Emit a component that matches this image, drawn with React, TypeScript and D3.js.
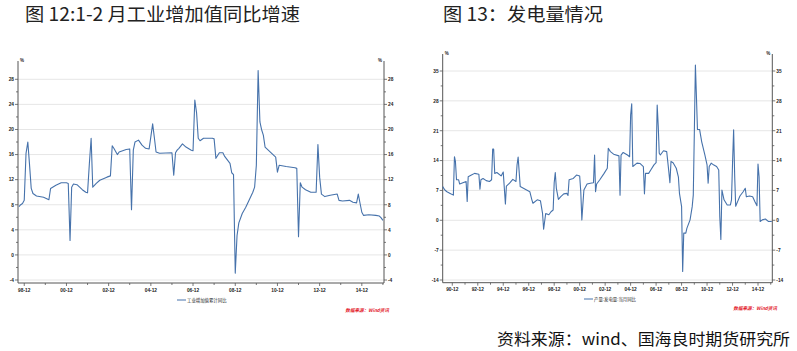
import * as d3 from 'd3';
import { useRef, useEffect } from 'react';

// 工业增加值累计同比 (%)
const ivaMonths = [
  '1998-09', '1998-10', '1998-11', '1998-12', '1999-01', '1999-02', '1999-03', '1999-04', '1999-05', '1999-07',
  '1999-11', '2000-02', '2000-03', '2000-06', '2000-09', '2000-12', '2001-01', '2001-02', '2001-03', '2001-04',
  '2001-06', '2001-09', '2001-11', '2001-12', '2002-01', '2002-02', '2002-03', '2002-05', '2002-07', '2002-11',
  '2003-01', '2003-02', '2003-03', '2003-05', '2003-06', '2003-10', '2003-12', '2004-01', '2004-02', '2004-03',
  '2004-05', '2004-07', '2004-09', '2004-11', '2005-01', '2005-02', '2005-03', '2005-05', '2005-12', '2006-01',
  '2006-02', '2006-03', '2006-04', '2006-06', '2006-08', '2006-11', '2006-12', '2007-01', '2007-02', '2007-03',
  '2007-04', '2007-06', '2007-11', '2007-12', '2008-01', '2008-03', '2008-05', '2008-06', '2008-09', '2008-10',
  '2008-11', '2008-12', '2009-01', '2009-02', '2009-04', '2009-06', '2009-08', '2009-10', '2009-11', '2009-12',
  '2010-01', '2010-02', '2010-03', '2010-04', '2010-05', '2010-08', '2010-11', '2010-12', '2011-01', '2011-05',
  '2011-10', '2011-11', '2011-12', '2012-01', '2012-02', '2012-04', '2012-07', '2012-10', '2012-11', '2012-12',
  '2013-01', '2013-03', '2013-06', '2013-10', '2013-11', '2014-01', '2014-05', '2014-07', '2014-09', '2014-10',
  '2014-11', '2014-12', '2015-01', '2015-04', '2015-08', '2015-10', '2015-11', '2015-12'
];
const ivaValues = [
  7.7, 8.0, 8.2, 8.7, 16.2, 18.0, 14.6, 10.6, 9.8, 9.4,
  9.2, 8.8, 10.6, 11.1, 11.5, 11.5, 11.4, 2.3, 10.8, 11.3,
  11.2, 10.4, 10.0, 9.9, 14.5, 18.6, 10.8, 11.4, 11.9, 12.4,
  12.6, 17.4, 17.0, 16.0, 16.4, 16.8, 16.9, 7.2, 16.7, 18.0,
  18.3, 17.5, 17.0, 16.9, 20.9, 18.6, 16.4, 16.2, 16.3, 12.7,
  16.3, 16.7, 17.0, 17.7, 17.2, 16.7, 16.6, 24.7, 22.6, 18.6,
  18.2, 18.6, 18.6, 18.5, 15.4, 16.3, 16.3, 15.7, 14.6, 13.1,
  12.8, -2.9, 3.1, 5.1, 6.6, 7.6, 8.8, 10.0, 10.8, 14.3,
  29.4, 21.2, 20.0, 19.1, 17.2, 16.4, 15.6, 13.2, 14.3, 14.1,
  13.9, 13.8, 2.9, 11.5, 10.8, 10.4, 10.0, 10.0, 17.6, 12.4,
  9.7, 9.3, 9.5, 9.7, 8.7, 8.6, 8.7, 8.4, 8.3, 9.7,
  8.2, 6.8, 6.3, 6.4, 6.3, 6.2, 5.9, 5.5
];

// 发电量当月同比 (%)
const powerMonths = [
  '1990-03', '1990-05', '1990-07', '1990-10', '1991-01', '1991-02', '1991-03', '1991-04', '1991-06', '1991-07',
  '1991-10', '1992-01', '1992-02', '1992-03', '1992-06', '1992-09', '1993-01', '1993-02', '1993-03', '1993-05',
  '1993-08', '1993-11', '1994-01', '1994-02', '1994-03', '1994-04', '1994-06', '1994-10', '1994-12', '1995-02',
  '1995-03', '1995-06', '1995-09', '1995-12', '1996-01', '1996-02', '1996-04', '1996-07', '1996-10', '1997-01',
  '1997-03', '1997-04', '1997-08', '1997-11', '1998-01', '1998-02', '1998-04', '1998-07', '1998-09', '1998-11',
  '1998-12', '1999-01', '1999-02', '1999-04', '1999-06', '1999-09', '1999-12', '2000-01', '2000-02', '2000-06',
  '2000-09', '2000-12', '2001-01', '2001-02', '2001-03', '2001-04', '2001-07', '2001-10', '2002-01', '2002-02',
  '2002-03', '2002-04', '2002-07', '2002-11', '2003-02', '2003-03', '2003-05', '2003-08', '2004-01', '2004-02',
  '2004-03', '2004-05', '2004-09', '2004-11', '2004-12', '2005-01', '2005-02', '2005-06', '2005-09', '2005-12',
  '2006-01', '2006-02', '2006-05', '2006-07', '2006-10', '2006-12', '2007-01', '2007-02', '2007-03', '2007-04',
  '2007-07', '2007-10', '2007-12', '2008-01', '2008-02', '2008-04', '2008-07', '2008-09', '2008-10', '2008-12',
  '2009-01', '2009-02', '2009-04', '2009-05', '2009-08', '2009-10', '2009-11', '2009-12', '2010-01', '2010-02',
  '2010-03', '2010-05', '2010-07', '2010-10', '2010-12', '2011-01', '2011-02', '2011-04', '2011-06', '2011-09',
  '2011-11', '2011-12', '2012-01', '2012-02', '2012-04', '2012-07', '2012-10', '2012-11', '2012-12', '2013-01',
  '2013-02', '2013-03', '2013-05', '2013-07', '2013-10', '2013-12', '2014-01', '2014-04', '2014-07', '2014-09',
  '2014-11', '2014-12', '2015-01', '2015-02', '2015-04', '2015-07', '2015-10', '2016-01'
];
const powerValues = [
  7.9, 7.1, 6.7, 6.3, 5.9, 14.9, 13.8, 9.5, 9.5, 8.5,
  8.8, 9.1, 4.4, 10.2, 10.6, 11.0, 10.8, 7.3, 9.5, 9.8,
  9.3, 9.1, 9.5, 16.7, 16.7, 11.0, 11.2, 10.4, 11.3, 3.8,
  8.0, 8.7, 9.6, 9.1, 13.0, 14.8, 7.9, 7.5, 7.1, 6.7,
  4.8, 4.0, 4.8, 4.6, 1.6, -2.1, 1.6, 1.3, 2.0, 2.4,
  8.8, 11.2, 7.5, 4.9, 5.5, 6.2, 6.3, 5.8, 9.5, 9.8,
  10.6, 10.4, 6.7, 0.1, 3.5, 7.1, 8.5, 8.7, 8.8, 15.3,
  6.7, 8.5, 9.5, 11.0, 12.2, 16.9, 16.1, 15.5, 15.1, 5.9,
  15.3, 15.9, 15.3, 14.9, 24.7, 27.3, 12.6, 13.4, 13.3, 12.6,
  6.2, 11.0, 11.0, 11.8, 13.0, 13.5, 27.0, 22.0, 15.7, 15.3,
  16.3, 16.1, 11.4, 8.8, 13.8, 13.5, 12.2, 10.1, 6.3, 3.2,
  -12.0, -3.0, -3.0, -1.9, 0.1, 3.2, 5.9, 20.4, 36.4, 28.6,
  21.3, 21.3, 18.4, 15.3, 13.0, 8.7, 12.6, 13.4, 13.0, 12.6,
  11.8, 0.9, -4.5, 7.1, 4.8, 3.6, 3.6, 4.8, 13.4, 21.2,
  10.2, 3.3, 4.5, 5.7, 6.7, 7.5, 5.5, 5.7, 5.5, 4.4,
  3.4, 13.2, 10.2, -0.3, 0.1, 0.3, -0.3, -0.3
];

const ivaYTicks = [-4, 0, 4, 8, 12, 16, 20, 24, 28];
const powerYTicks = [-14, -7, 0, 7, 14, 21, 28, 35];
const ivaXLabels = ['98-12', '00-12', '02-12', '04-12', '06-12', '08-12', '10-12', '12-12', '14-12'];
const powerXLabels = ['90-12', '92-12', '94-12', '96-12', '98-12', '00-12', '02-12', '04-12', '06-12', '08-12', '10-12', '12-12', '14-12'];

const LINE = '#4672ab';
const AXIS = '#555';
const GRID = '#e6e6e6';
const TICK_FONT = 'Liberation Sans, Arial, sans-serif';
const CJK = '"Noto Sans CJK SC", sans-serif';

const parseMonth = d3.timeParse('%Y-%m');
const labelDate = (s: string) => {
  const yy = +s.slice(0, 2);
  return new Date(yy >= 50 ? 1900 + yy : 2000 + yy, +s.slice(3) - 1, 1);
};

function drawPanel(svg: any, o: any) {
  const x = d3.scaleTime().domain(o.xDomain).range([o.left, o.right]);
  const y = d3.scaleLinear().domain([o.yTicks[0], o.yTicks[o.yTicks.length - 1]]).range(o.yRange);
  const g = svg.append('g');

  // grid
  g.selectAll('.grid').data(o.yTicks).enter().append('line')
    .attr('x1', o.left).attr('x2', o.right)
    .attr('y1', (d: number) => y(d)).attr('y2', (d: number) => y(d))
    .attr('stroke', GRID).attr('stroke-width', 1);

  // axes lines
  g.append('line').attr('x1', o.left).attr('x2', o.left).attr('y1', o.top).attr('y2', o.bottom).attr('stroke', AXIS);
  g.append('line').attr('x1', o.right).attr('x2', o.right).attr('y1', o.top).attr('y2', o.bottom).attr('stroke', AXIS);
  g.append('line').attr('x1', o.left).attr('x2', o.right).attr('y1', o.bottom).attr('y2', o.bottom).attr('stroke', AXIS);

  // y ticks, both sides
  const step = o.yTicks[1] - o.yTicks[0];
  const minor = o.yTicks.slice(0, -1).map((d: number) => d + step / 2);
  [o.left, o.right].forEach((ax: number, i: number) => {
    const dir = i === 0 ? -1 : 1;
    g.selectAll(null).data(o.yTicks).enter().append('line')
      .attr('x1', ax).attr('x2', ax + dir * 3)
      .attr('y1', (d: number) => y(d)).attr('y2', (d: number) => y(d))
      .attr('stroke', AXIS).attr('stroke-width', 0.8);
    g.selectAll(null).data(minor).enter().append('line')
      .attr('x1', ax).attr('x2', ax + dir * 2)
      .attr('y1', (d: number) => y(d)).attr('y2', (d: number) => y(d))
      .attr('stroke', AXIS).attr('stroke-width', 0.8);
    g.selectAll(null).data(o.yTicks).enter().append('text')
      .attr('x', ax + dir * 4)
      .attr('y', (d: number) => y(d) + 1.8)
      .attr('text-anchor', i === 0 ? 'end' : 'start')
      .style('font-family', TICK_FONT).style('font-size', '4.8px').style('font-weight', 'bold')
      .attr('fill', '#222')
      .text((d: number) => d);
    g.append('text')
      .attr('x', ax + (i === 0 ? 2 : -2)).attr('y', o.top + 1)
      .attr('text-anchor', i === 0 ? 'start' : 'end')
      .style('font-family', TICK_FONT).style('font-size', '4.5px').style('font-weight', 'bold')
      .attr('fill', '#222').text('%');
  });

  // x ticks
  const labelDates = o.xLabels.map(labelDate);
  g.selectAll(null).data(labelDates).enter().append('line')
    .attr('x1', (d: Date) => x(d)).attr('x2', (d: Date) => x(d))
    .attr('y1', o.bottom).attr('y2', o.bottom + 3)
    .attr('stroke', AXIS).attr('stroke-width', 0.8);
  const minorX = labelDates.map((d: Date) => d3.timeYear.offset(d, 1)).filter((d: Date) => x(d) < o.right);
  g.selectAll(null).data(minorX).enter().append('line')
    .attr('x1', (d: Date) => x(d)).attr('x2', (d: Date) => x(d))
    .attr('y1', o.bottom).attr('y2', o.bottom + 2)
    .attr('stroke', AXIS).attr('stroke-width', 0.8);
  g.selectAll(null).data(o.xLabels).enter().append('text')
    .attr('x', (d: string) => x(labelDate(d)))
    .attr('y', o.bottom + 8.5)
    .attr('text-anchor', 'middle')
    .style('font-family', TICK_FONT).style('font-size', '4.8px').style('font-weight', 'bold')
    .attr('fill', '#222')
    .text((d: string) => d);

  // series
  const pts = o.months.map((m: string, i: number) => ({ date: parseMonth(m), value: o.values[i] }));
  const line = d3.line<any>().x((d) => x(d.date)).y((d) => y(d.value));
  g.append('path').datum(pts)
    .attr('fill', 'none').attr('stroke', LINE).attr('stroke-width', 1.1)
    .attr('stroke-linejoin', 'round')
    .attr('d', line);

  // legend
  g.append('line').attr('x1', o.legX).attr('x2', o.legX + 9).attr('y1', o.legY).attr('y2', o.legY)
    .attr('stroke', LINE).attr('stroke-width', 1);
  g.append('text').attr('x', o.legX + 10).attr('y', o.legY + 1.7)
    .style('font-family', CJK).style('font-size', '4.4px').attr('fill', '#222')
    .text(o.legend);

  // wind mark
  g.append('text').attr('x', o.markX).attr('y', o.markY).attr('text-anchor', 'end')
    .style('font-family', CJK).style('font-size', '4.6px').style('font-weight', 'bold').style('font-style', 'italic')
    .attr('fill', '#e3212b').text('数据来源：Wind资讯');
}

export default function App() {
  const ref = useRef<SVGSVGElement>(null);

  useEffect(() => {
    const svg = d3.select(ref.current);
    svg.selectAll('*').remove();

    svg.append('rect').attr('width', 797).attr('height', 351).attr('fill', '#fff');

    svg.append('text').attr('x', 25).attr('y', 21)
      .attr('textLength', 275).attr('lengthAdjust', 'spacingAndGlyphs')
      .style('font-family', CJK).style('font-size', '18.5px').attr('fill', '#222')
      .text('图 12:1-2 月工业增加值同比增速');
    svg.append('text').attr('x', 443).attr('y', 21)
      .attr('textLength', 160).attr('lengthAdjust', 'spacingAndGlyphs')
      .style('font-family', CJK).style('font-size', '18.5px').attr('fill', '#222')
      .text('图 13：发电量情况');

    drawPanel(svg, {
      months: ivaMonths, values: ivaValues, yTicks: ivaYTicks, xLabels: ivaXLabels,
      xDomain: [new Date(1998, 7, 15), new Date(2015, 11, 20)],
      left: 18, right: 384, top: 61, bottom: 283, yRange: [280, 79.3],
      legend: '工业增加值累计同比', legX: 177, legY: 300,
      markX: 389, markY: 311.5,
    });

    drawPanel(svg, {
      months: powerMonths, values: powerValues, yTicks: powerYTicks, xLabels: powerXLabels,
      xDomain: [new Date(1990, 2, 1), new Date(2016, 0, 15)],
      left: 442.7, right: 772.3, top: 54, bottom: 282.7, yRange: [280, 71],
      legend: '产量:发电量:当月同比', legX: 584, legY: 299,
      markX: 777, markY: 310,
    });

    svg.append('text').attr('x', 497).attr('y', 345)
      .attr('textLength', 293).attr('lengthAdjust', 'spacingAndGlyphs')
      .style('font-family', CJK).style('font-size', '16px').attr('fill', '#111')
      .text('资料来源：wind、国海良时期货研究所');
  }, []);

  return (
    <svg ref={ref} width={797} height={351} style={{ position: 'absolute', left: 0, top: 0 }}></svg>
  );
}
